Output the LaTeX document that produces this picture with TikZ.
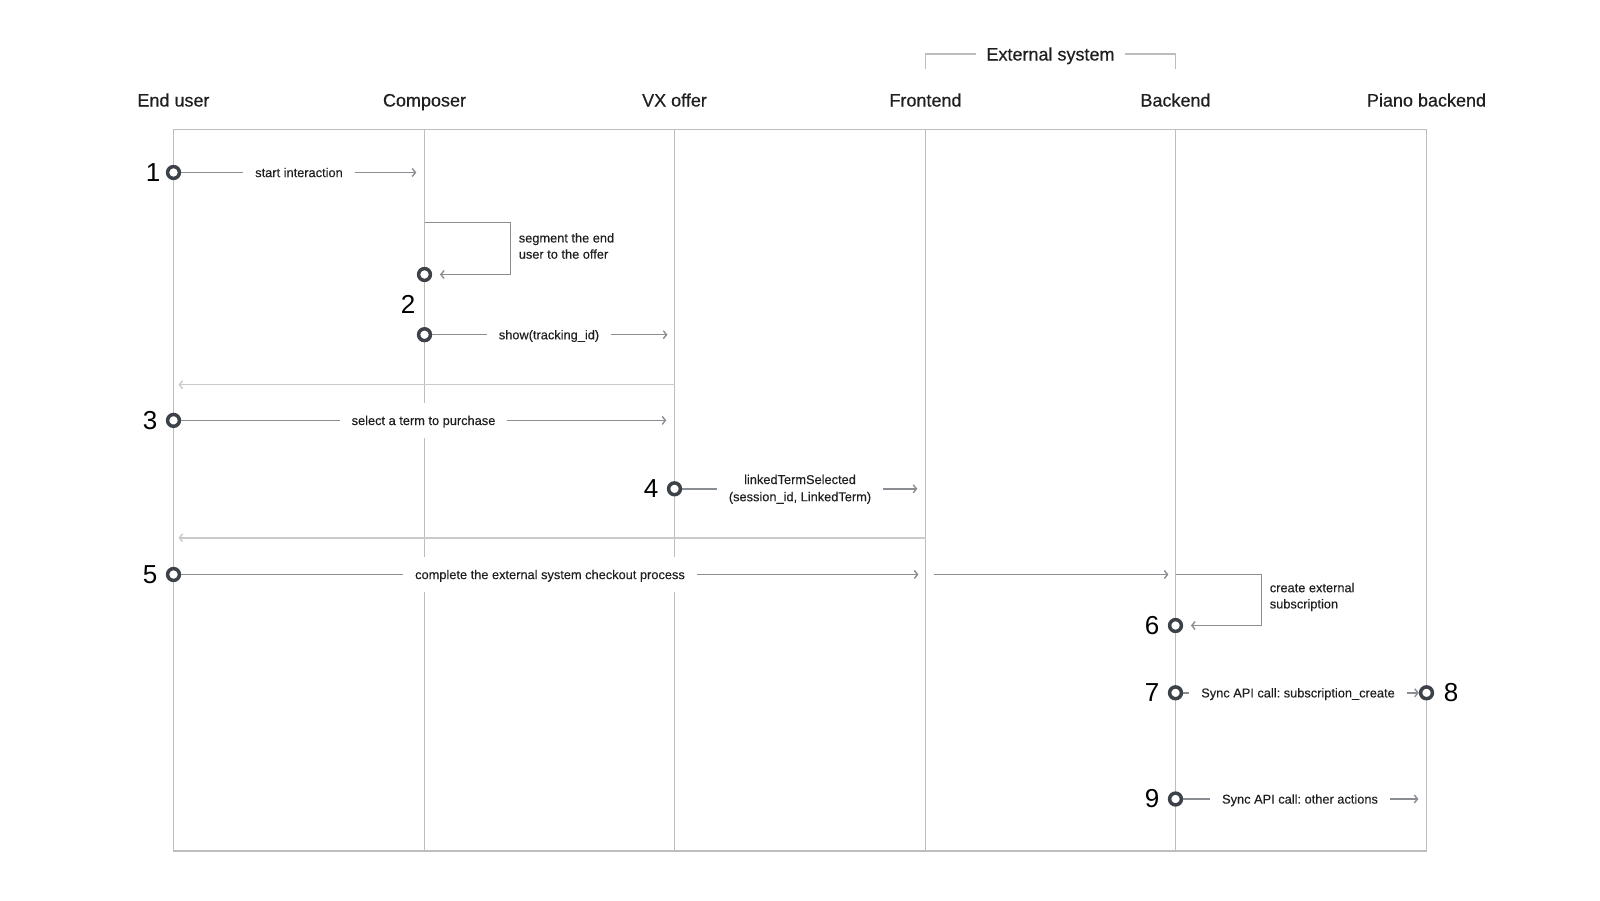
\documentclass[tikz,border=0pt]{standalone}
\usepackage{fontspec}
\setmainfont{Liberation Sans}
\newfontfamily\hdrfont{Liberation Sans}[FakeBold=0.45]
\newfontfamily\lblfont{Liberation Sans}[FakeBold=0.15]
\usetikzlibrary{arrows.meta}
\definecolor{lifec}{HTML}{BDBDBD}
\definecolor{msgc}{HTML}{8A8E93}
\definecolor{retc}{HTML}{CACACA}
\definecolor{dotc}{HTML}{3C4248}
\definecolor{txtc}{HTML}{1F1F1F}
\frenchspacing
\begin{document}
\begin{tikzpicture}[x=0.5pt,y=-0.5pt,
 life/.style={draw=lifec,line width=0.55pt},
 msg/.style={draw=msgc,line width=0.7pt,-{Straight Barb[length=1.6pt,width=4pt]}},
 ret/.style={draw=retc,line width=0.7pt,-{Straight Barb[length=1.6pt,width=4pt]}},
 hdr/.style={font=\hdrfont\fontsize{9}{11}\selectfont,text=txtc,inner sep=0pt,text height=6.5pt,text depth=0pt},
 lbl/.style={font=\lblfont\fontsize{6.4}{8.6}\selectfont,text=txtc,fill=white,inner xsep=6pt,inner ysep=0pt,minimum height=17.5pt,align=center,text height=4.6pt,text depth=0pt},
 lbltwo/.style={font=\lblfont\fontsize{6.4}{8.6}\selectfont,text=txtc,fill=white,inner xsep=6pt,inner ysep=0pt,minimum height=17.5pt,align=center},
 note/.style={font=\lblfont\fontsize{6.4}{8.1}\selectfont,text=txtc,align=left,anchor=west,inner sep=0pt},
 num/.style={font=\fontsize{13}{15}\selectfont,text=black,inner sep=0pt},
 dot/.style={circle,draw=dotc,line width=1.75pt,fill=white,minimum size=5.9pt,inner sep=0pt}]
\useasboundingbox (0,0) rectangle (1600,900);

% headers
\node[hdr] (hE) at (173.5,100) {End user};
\node[hdr] (hC) at (424.5,100) {Composer};
\node[hdr] (hV) at (674.5,100) {VX offer};
\node[hdr] (hF) at (925.5,100) {Frontend};
\node[hdr] (hB) at (1175.5,100) {Backend};
\node[hdr] (hP) at (1426.5,100) {Piano backend};

% external system bracket
\coordinate (xa) at (925.5,69.4);
\coordinate (xb) at (925.5,54);
\coordinate (xc) at (1175.5,54);
\coordinate (xd) at (1175.5,69.4);
\draw[life] (xa) -- (xb) -- (xc) -- (xd);
\node[hdr,fill=white,inner xsep=5pt,inner ysep=2pt] (ext) at (1050.5,54) {External system};

% frame and lifelines
\coordinate (Et) at (173.5,129.6);  \coordinate (Eb) at (173.5,851);
\coordinate (Ct) at (424.5,129.6);  \coordinate (Cb) at (424.5,851);
\coordinate (Vt) at (674.5,129.6);  \coordinate (Vb) at (674.5,851);
\coordinate (Ft) at (925.5,129.6);  \coordinate (Fb) at (925.5,851);
\coordinate (Bt) at (1175.5,129.6); \coordinate (Bb) at (1175.5,851);
\coordinate (Pt) at (1426.5,129.6); \coordinate (Pb) at (1426.5,851);
\draw[life] (Et) rectangle (Pb);
\draw[life] (Ct) -- (Cb);
\draw[life] (Vt) -- (Vb);
\draw[life] (Ft) -- (Fb);
\draw[life] (Bt) -- (Bb);

% dots
\node[dot] (c1) at (173.5,172.5) {};
\node[dot] (c2a) at (424.5,274.5) {};
\node[dot] (c2b) at (424.5,334.7) {};
\node[dot] (c3) at (173.5,420.4) {};
\node[dot] (c4) at (674.5,488.8) {};
\node[dot] (c5) at (173.5,574.5) {};
\node[dot] (c6) at (1175.5,625.5) {};
\node[dot] (c7) at (1175.5,692.8) {};
\node[dot] (c8) at (1426.5,692.8) {};
\node[dot] (c9) at (1175.5,799) {};

% numbers
\node[num] (n1) at (153,172.5) {1};
\node[num] (n2) at (408,304) {2};
\node[num] (n3) at (150,420.4) {3};
\node[num] (n4) at (651,488.8) {4};
\node[num] (n5) at (150,574.5) {5};
\node[num] (n6) at (1152,625.5) {6};
\node[num] (n7) at (1152,692.8) {7};
\node[num] (n8) at (1451,692.8) {8};
\node[num] (n9) at (1152,799) {9};

% end points
\coordinate (a1) at (416.3,172.5);
\coordinate (l1a) at (424.5,222.5);
\coordinate (l1b) at (510.2,222.5);
\coordinate (l1c) at (510.2,274.5);
\coordinate (a2) at (667.4,334.7);
\coordinate (r1s) at (674.5,384.7);
\coordinate (r1e) at (178.5,384.7);
\coordinate (a3) at (666.3,420.4);
\coordinate (a4) at (917.3,488.8);
\coordinate (r2s) at (925.5,537.8);
\coordinate (r2e) at (178.5,537.8);
\coordinate (a5) at (918.4,574.5);
\coordinate (s5) at (933.7,574.5);
\coordinate (b5) at (1168.4,574.5);
\coordinate (l2a) at (1175.5,574.5);
\coordinate (l2b) at (1261.2,574.5);
\coordinate (l2c) at (1261.2,625.5);
\coordinate (a9) at (1418.4,799);

% messages
\draw[msg] (c1) -- (a1);
\draw[msg,shorten >=3.9pt] (l1a) -- (l1b) -- (l1c) -- (c2a);
\draw[msg] (c2b) -- (a2);
\draw[ret] (r1s) -- (r1e);
\draw[msg] (c3) -- (a3);
\draw[msg] (c4) -- (a4);
\draw[ret] (r2s) -- (r2e);
\draw[msg] (c5) -- (a5);
\draw[msg] (s5) -- (b5);
\draw[msg,shorten >=3.9pt] (l2a) -- (l2b) -- (l2c) -- (c6);
\draw[msg] (c7) -- (c8);
\draw[msg] (c9) -- (a9);

% labels
\node[lbl] (t1) at (299,172.5) {start interaction};
\node[note] (t2) at (518.4,246) {segment the end\\user to the offer};
\node[lbl] (t2b) at (549,334.7) {show(tracking\_id)};
\node[lbl] (t3) at (423.5,420.4) {select a term to purchase};
\node[lbltwo] (t4) at (800,489.3) {linkedTermSelected\\(session\_id, LinkedTerm)};
\node[lbl] (t5) at (550,574.5) {complete the external system checkout process};
\node[note] (t6) at (1269.4,597) {create external\\subscription};
\node[lbl] (t7) at (1298,692.8) {Sync API call: subscription\_create};
\node[lbl] (t9) at (1300,799) {Sync API call: other actions};
\end{tikzpicture}
\end{document}
